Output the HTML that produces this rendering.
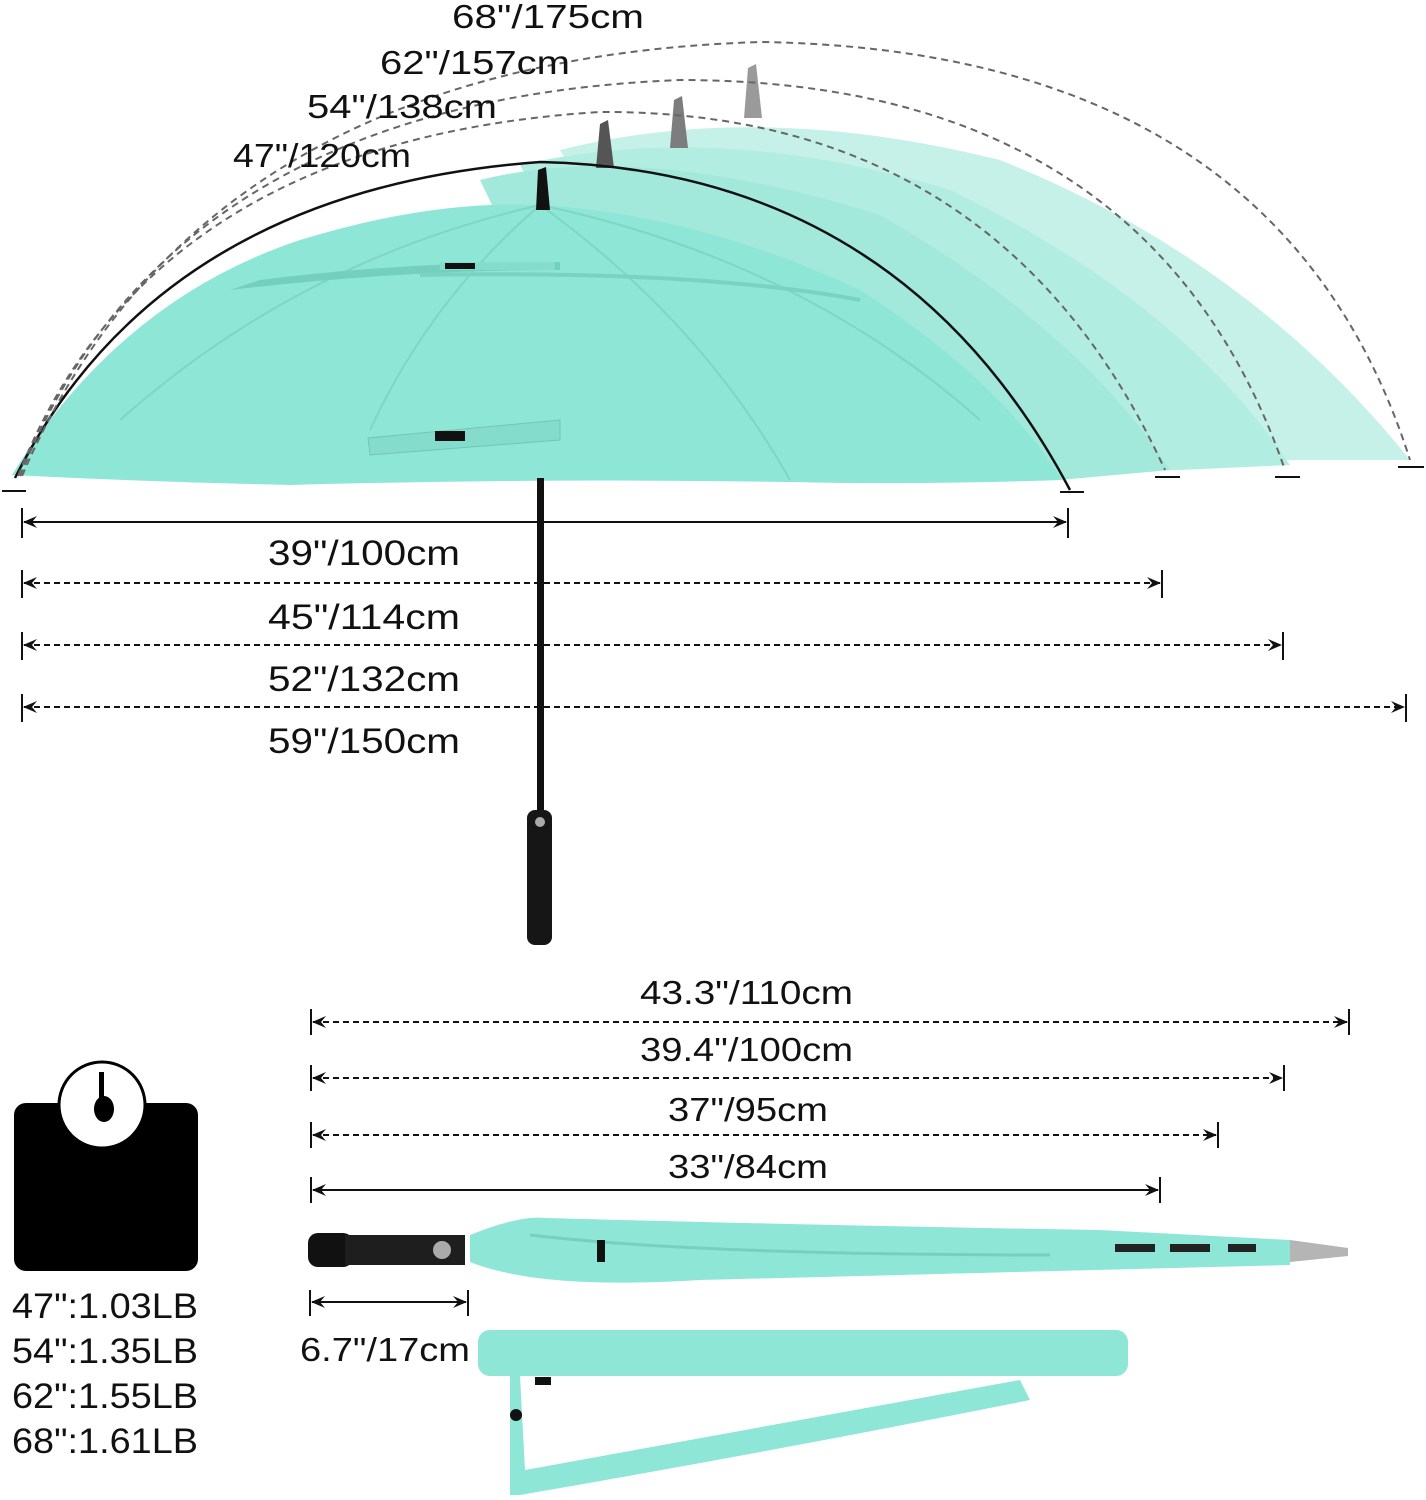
<!DOCTYPE html>
<html><head><meta charset="utf-8"><style>
html,body{margin:0;padding:0;background:#fff;width:1426px;height:1500px;overflow:hidden}
svg text{font-family:"Liberation Sans",sans-serif;fill:#111}
</style></head><body>
<svg width="1426" height="1500" viewBox="0 0 1426 1500" xmlns="http://www.w3.org/2000/svg">
<defs>
<marker id="al" markerWidth="14" markerHeight="12" refX="1" refY="6" orient="auto" markerUnits="userSpaceOnUse"><path d="M14,0 L0,6 L14,12 L9,6 Z" fill="#111"/></marker>
<marker id="ar" markerWidth="14" markerHeight="12" refX="13" refY="6" orient="auto" markerUnits="userSpaceOnUse"><path d="M0,0 L14,6 L0,12 L5,6 Z" fill="#111"/></marker>
</defs>
<!-- ghost canopies -->
<path d="M560,150 Q760,100 1000,160 Q1250,260 1410,460 L1300,460 Q900,470 700,400 Z" fill="#c6f1e8"/>
<path d="M520,165 Q720,120 950,190 Q1180,300 1290,465 L1180,470 Q800,480 650,420 Z" fill="#b2ede1"/>
<path d="M480,180 Q640,140 880,215 Q1080,330 1170,470 L1060,480 Q800,480 600,430 Z" fill="#a2e9dc"/>
<!-- ghost tips -->
<path d="M744,118 L748,68 L756,64 L762,118 Z" fill="#9a9a9a"/>
<path d="M670,148 L674,100 L682,96 L688,148 Z" fill="#7d7d7d"/>
<path d="M596,168 L600,124 L608,120 L614,168 Z" fill="#555"/>
<!-- main canopy -->
<path d="M12,475 Q120,300 300,240 Q430,200 540,205 Q700,215 860,290 Q1000,380 1062,480 Q920,485 790,482 Q540,478 290,485 Q150,482 12,475 Z" fill="#8ee6d6"/>
<path d="M540,205 Q430,300 370,430 M540,205 Q700,320 790,480 M540,205 Q300,260 120,420 M540,205 Q800,260 980,420" stroke="#7fd6c6" stroke-width="2" fill="none"/>
<path d="M230,290 Q400,270 560,270 L560,262 Q400,262 260,280 Z" fill="#74cfbf"/>
<path d="M420,275 Q700,270 860,300" stroke="#7ad2c2" stroke-width="4" fill="none"/>
<rect x="440" y="262" width="115" height="8" fill="#86dccc"/><rect x="445" y="263" width="30" height="6" fill="#111"/>
<path d="M368,438 L560,420 L560,440 L370,455 Z" fill="#86dccc" stroke="#6cc8b7"/>
<rect x="435" y="431" width="30" height="10" fill="#111"/>
<path d="M536,210 L538,170 L546,167 L550,210 Z" fill="#111"/>
<!-- arcs -->
<path d="M15,478 Q160,190 540,162 Q900,170 1070,490" stroke="#111" stroke-width="2.5" fill="none"/>
<path d="M18,476 Q150,140 600,112 Q1000,110 1165,470" stroke="#666" stroke-width="2" stroke-dasharray="7,5" fill="none"/>
<path d="M20,476 Q170,100 680,80 Q1150,80 1285,470" stroke="#666" stroke-width="2" stroke-dasharray="7,5" fill="none"/>
<path d="M22,476 Q200,60 760,42 Q1280,50 1410,460" stroke="#666" stroke-width="2" stroke-dasharray="7,5" fill="none"/>
<g stroke="#111" stroke-width="2"><line x1="2" y1="491" x2="26" y2="491"/><line x1="1060" y1="492" x2="1084" y2="492"/><line x1="1155" y1="477" x2="1180" y2="477"/><line x1="1275" y1="477" x2="1300" y2="477"/><line x1="1398" y1="467" x2="1424" y2="467"/></g>
<text x="452" y="28" font-size="33" textLength="192" lengthAdjust="spacingAndGlyphs">68"/175cm</text>
<text x="380" y="74" font-size="33" textLength="190" lengthAdjust="spacingAndGlyphs">62"/157cm</text>
<text x="307" y="118" font-size="33" textLength="190" lengthAdjust="spacingAndGlyphs">54"/138cm</text>
<text x="233" y="167" font-size="33" textLength="178" lengthAdjust="spacingAndGlyphs">47"/120cm</text>
<!-- shaft and handle -->
<rect x="537" y="478" width="7" height="335" fill="#111"/>
<rect x="527" y="810" width="25" height="135" rx="8" fill="#161616"/>
<circle cx="540" cy="822" r="5" fill="#aaa"/>
<!-- open dims -->
<g stroke="#111" stroke-width="2">
<line x1="22" y1="508" x2="22" y2="538"/><line x1="1068" y1="508" x2="1068" y2="538"/>
<line x1="24" y1="522" x2="1066" y2="522" marker-start="url(#al)" marker-end="url(#ar)"/>
<line x1="22" y1="570" x2="22" y2="598"/><line x1="1162" y1="570" x2="1162" y2="598"/>
<line x1="24" y1="583" x2="1160" y2="583" stroke-dasharray="6,4" marker-start="url(#al)" marker-end="url(#ar)"/>
<line x1="22" y1="632" x2="22" y2="660"/><line x1="1283" y1="632" x2="1283" y2="660"/>
<line x1="24" y1="645" x2="1281" y2="645" stroke-dasharray="6,4" marker-start="url(#al)" marker-end="url(#ar)"/>
<line x1="22" y1="694" x2="22" y2="722"/><line x1="1406" y1="694" x2="1406" y2="722"/>
<line x1="24" y1="707" x2="1404" y2="707" stroke-dasharray="6,4" marker-start="url(#al)" marker-end="url(#ar)"/>
</g>
<g font-size="35"><text x="268" y="565" textLength="192" lengthAdjust="spacingAndGlyphs">39"/100cm</text>
<text x="268" y="629" textLength="192" lengthAdjust="spacingAndGlyphs">45"/114cm</text>
<text x="268" y="691" textLength="192" lengthAdjust="spacingAndGlyphs">52"/132cm</text>
<text x="268" y="753" textLength="192" lengthAdjust="spacingAndGlyphs">59"/150cm</text></g>
<!-- closed dims -->
<g stroke="#111" stroke-width="2">
<line x1="311" y1="1009" x2="311" y2="1035"/><line x1="1349" y1="1009" x2="1349" y2="1035"/>
<line x1="313" y1="1022" x2="1347" y2="1022" stroke-dasharray="6,4" marker-start="url(#al)" marker-end="url(#ar)"/>
<line x1="311" y1="1065" x2="311" y2="1091"/><line x1="1284" y1="1065" x2="1284" y2="1091"/>
<line x1="313" y1="1078" x2="1282" y2="1078" stroke-dasharray="6,4" marker-start="url(#al)" marker-end="url(#ar)"/>
<line x1="311" y1="1122" x2="311" y2="1148"/><line x1="1218" y1="1122" x2="1218" y2="1148"/>
<line x1="313" y1="1135" x2="1216" y2="1135" stroke-dasharray="6,4" marker-start="url(#al)" marker-end="url(#ar)"/>
<line x1="311" y1="1177" x2="311" y2="1203"/><line x1="1160" y1="1177" x2="1160" y2="1203"/>
<line x1="313" y1="1190" x2="1158" y2="1190" marker-start="url(#al)" marker-end="url(#ar)"/>
<line x1="310" y1="1290" x2="310" y2="1316"/><line x1="468" y1="1290" x2="468" y2="1316"/>
<line x1="312" y1="1302" x2="466" y2="1302" marker-start="url(#al)" marker-end="url(#ar)"/>
</g>
<g font-size="33"><text x="640" y="1004" textLength="213" lengthAdjust="spacingAndGlyphs">43.3"/110cm</text>
<text x="640" y="1061" textLength="213" lengthAdjust="spacingAndGlyphs">39.4"/100cm</text>
<text x="668" y="1121" textLength="160" lengthAdjust="spacingAndGlyphs">37"/95cm</text>
<text x="668" y="1178" textLength="160" lengthAdjust="spacingAndGlyphs">33"/84cm</text>
<text x="300" y="1361" textLength="170" lengthAdjust="spacingAndGlyphs">6.7"/17cm</text></g>
<!-- closed umbrella -->
<path d="M470,1235 Q520,1215 545,1218 Q800,1225 1100,1230 L1290,1240 L1290,1265 Q900,1275 700,1280 Q540,1290 470,1262 Z" fill="#8ee6d6"/>
<path d="M530,1235 Q700,1255 1050,1255" stroke="#77cfbf" stroke-width="3" fill="none"/>
<path d="M1290,1240 L1348,1248 L1348,1256 L1290,1262 Z" fill="#b5b5b5"/>
<rect x="1115" y="1244" width="40" height="8" fill="#222"/><rect x="1170" y="1244" width="40" height="8" fill="#222"/><rect x="1228" y="1244" width="28" height="8" fill="#222"/>
<rect x="308" y="1233" width="45" height="34" rx="10" fill="#111"/>
<rect x="345" y="1235" width="120" height="30" fill="#1e1e1e"/>
<circle cx="442" cy="1250" r="9" fill="#aaa"/>
<rect x="597" y="1240" width="8" height="22" fill="#111"/>
<!-- bag -->
<rect x="478" y="1330" width="650" height="46" rx="12" fill="#8ee6d6"/>
<path d="M510,1376 L520,1376 L525,1470 Q800,1420 1020,1380 L1030,1400 Q780,1450 520,1495 L510,1495 Z" fill="#8ee6d6"/>
<rect x="535" y="1377" width="16" height="8" fill="#111"/>
<circle cx="516" cy="1415" r="6" fill="#111"/>
<!-- scale icon -->
<rect x="14" y="1103" width="184" height="168" rx="12" fill="#000"/>
<ellipse cx="102" cy="1105" rx="43" ry="43" fill="#fff" stroke="#000" stroke-width="3"/>
<rect x="99" y="1072" width="5" height="32" fill="#000"/>
<ellipse cx="104" cy="1109" rx="10" ry="13" fill="#000"/>
<g font-size="35"><text x="12" y="1318" textLength="186" lengthAdjust="spacingAndGlyphs">47":1.03LB</text>
<text x="12" y="1363" textLength="186" lengthAdjust="spacingAndGlyphs">54":1.35LB</text>
<text x="12" y="1408" textLength="186" lengthAdjust="spacingAndGlyphs">62":1.55LB</text>
<text x="12" y="1453" textLength="186" lengthAdjust="spacingAndGlyphs">68":1.61LB</text></g>
</svg>
</body></html>
